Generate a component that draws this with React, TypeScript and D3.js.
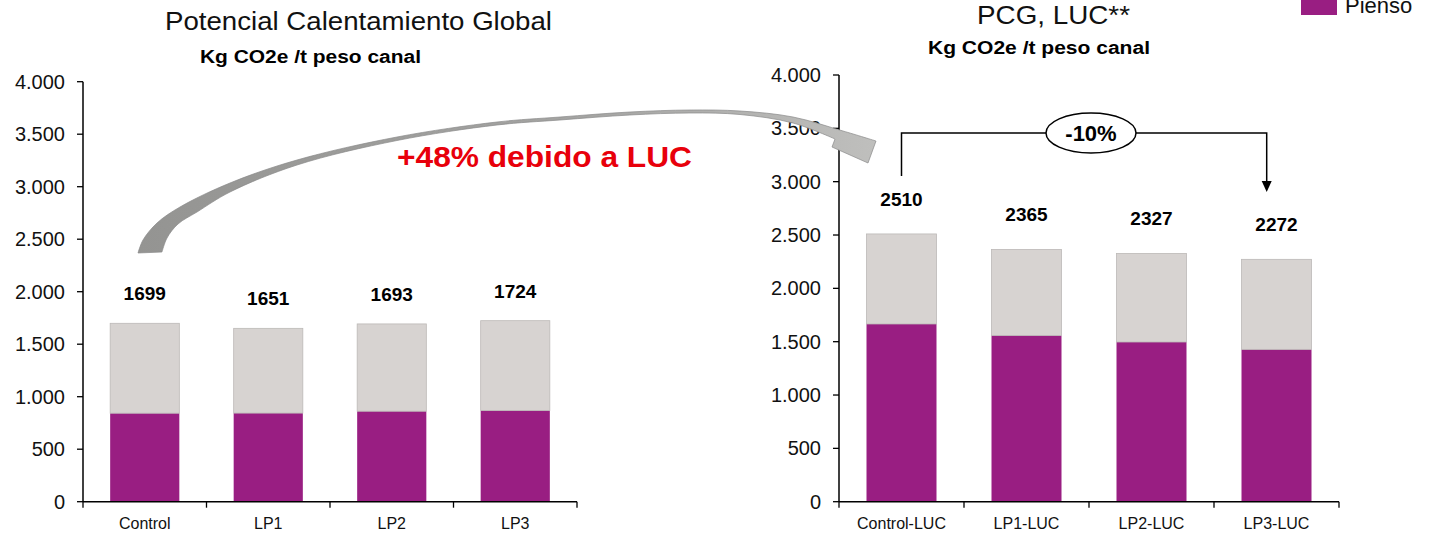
import React from "react";
import * as d3 from "d3";

// Emisiones (kg CO2e / t peso canal) por tratamiento
const leftCategories = ["Control", "LP1", "LP2", "LP3"];
const leftTotals = [1699, 1651, 1693, 1724];
const leftPienso = [843, 844, 862, 869];

const rightCategories = ["Control-LUC", "LP1-LUC", "LP2-LUC", "LP3-LUC"];
const rightTotals = [2510, 2365, 2327, 2272];
const rightPienso = [1666, 1559, 1497, 1428];

const yTickValues = [0, 500, 1000, 1500, 2000, 2500, 3000, 3500, 4000];

const PURPLE = "#991e82";
const GREY = "#d7d3d1";
const FONT = "'Liberation Sans', Arial, Helvetica, sans-serif";

const fmt = d3
  .formatLocale({ decimal: ",", thousands: ".", grouping: [3], currency: ["", ""] })
  .format(",");

type PanelProps = {
  categories: string[];
  totals: number[];
  pienso: number[];
  x0: number;
  x1: number;
  yBottom: number;
  yTop: number;
  labelGap: number;
};

function Panel({ categories, totals, pienso, x0, x1, yBottom, yTop, labelGap }: PanelProps) {
  const x = d3.scaleBand<string>().domain(categories).range([x0, x1]).paddingInner(0.44).paddingOuter(0.22);
  const y = d3.scaleLinear().domain([0, 4000]).range([yBottom, yTop]);
  const rows = categories.map((c, i) => ({ cat: c, pienso: pienso[i], otros: totals[i] - pienso[i] }));
  const series = d3.stack<any>().keys(["pienso", "otros"])(rows);
  const step = x.step();
  return (
    <g>
      {series.map((s) => (
        <g key={s.key}>
          {s.map((d, i) => (
            <rect
              key={i}
              x={x(categories[i])}
              width={x.bandwidth()}
              y={y(d[1])}
              height={y(d[0]) - y(d[1])}
              fill={s.key === "pienso" ? PURPLE : GREY}
              stroke={s.key === "pienso" ? "none" : "#bcb9b7"}
              strokeWidth={0.8}
            />
          ))}
        </g>
      ))}
      {/* value labels */}
      {totals.map((t, i) => (
        <text
          key={i}
          x={(x(categories[i]) as number) + x.bandwidth() / 2}
          y={y(t) - labelGap}
          textAnchor="middle"
          fontFamily={FONT}
          fontWeight="bold"
          fontSize={19}
          fill="#000"
        >
          {t}
        </text>
      ))}
      {/* y axis */}
      <line x1={x0} x2={x0} y1={yTop} y2={yBottom} stroke="#000" strokeWidth={1.5} />
      {yTickValues.map((v) => (
        <g key={v}>
          <line x1={x0 - 6} x2={x0} y1={y(v)} y2={y(v)} stroke="#000" strokeWidth={1.3} />
          <text x={x0 - 18} y={y(v) + 7} textAnchor="end" fontFamily={FONT} fontSize={20} fill="#111">
            {fmt(v)}
          </text>
        </g>
      ))}
      {/* x axis */}
      <line x1={x0} x2={x1} y1={yBottom} y2={yBottom} stroke="#000" strokeWidth={1.5} />
      {d3.range(categories.length + 1).map((i) => (
        <line key={i} x1={x0 + i * step} x2={x0 + i * step} y1={yBottom} y2={yBottom + 6} stroke="#000" strokeWidth={1.3} />
      ))}
      {categories.map((c) => (
        <text
          key={c}
          x={(x(c) as number) + x.bandwidth() / 2}
          y={529}
          textAnchor="middle"
          fontFamily={FONT}
          fontSize={16}
          fill="#111"
        >
          {c}
        </text>
      ))}
    </g>
  );
}

export default function App() {
  const W = 1431;
  const H = 536;

  // right panel geometry used by the bracket annotation
  const rx = d3.scaleBand<string>().domain(rightCategories).range([839, 1339]).paddingInner(0.44).paddingOuter(0.22);
  const bx0 = (rx(rightCategories[0]) as number) + rx.bandwidth() / 2;
  const bx1 = (rx(rightCategories[3]) as number) + rx.bandwidth() * 0.36;
  const bracketY = 133;

  // curved grey arrow linking both panels: tapered body + head
  const edge = d3.line().curve(d3.curveCatmullRom.alpha(0.5));
  const outer: [number, number][] = [
    [138, 253], [143, 240], [157, 223], [180, 207], [230, 183], [297, 160], [397, 137],
    [497, 122], [560, 117], [630, 112], [690, 110], [740, 111], [793, 117], [843, 131], [876, 141],
  ];
  const inner: [number, number][] = [
    [835, 139], [793, 123], [740, 114.5], [690, 113], [630, 115], [560, 120], [497, 125],
    [397, 140.5], [297, 165], [230, 192], [197, 212], [178, 224], [167, 238], [162, 252],
  ];
  const arrowPath =
    (edge(outer) as string) +
    "L868,163L832,147" +
    (edge(inner) as string).replace(/^M/, "L") +
    "Z";

  return (
    <svg width={W} height={H} style={{ position: "absolute", left: 0, top: 0, background: "#fff" }}>
      <defs>
        <linearGradient id="arrowFill" x1="0" x2="1" y1="0" y2="0">
          <stop offset="0" stopColor="#949492" />
          <stop offset="0.6" stopColor="#a4a4a2" />
          <stop offset="1" stopColor="#bfbfbd" />
        </linearGradient>
      </defs>
      <rect width={W} height={H} fill="#fff" />

      {/* titles */}
      <text x={165} y={30} fontFamily={FONT} fontSize={25} textLength={387} lengthAdjust="spacingAndGlyphs" fill="#111">
        Potencial Calentamiento Global
      </text>
      <text x={200} y={63} fontFamily={FONT} fontSize={18} fontWeight="bold" textLength={221} lengthAdjust="spacingAndGlyphs" fill="#000">
        Kg CO2e /t peso canal
      </text>
      <text x={977} y={24} fontFamily={FONT} fontSize={25} textLength={153} lengthAdjust="spacingAndGlyphs" fill="#111">
        PCG, LUC**
      </text>
      <text x={928} y={54} fontFamily={FONT} fontSize={18} fontWeight="bold" textLength={222} lengthAdjust="spacingAndGlyphs" fill="#000">
        Kg CO2e /t peso canal
      </text>

      {/* legend */}
      <rect x={1301} y={-2} width={36} height={17} fill={PURPLE} />
      <text x={1345} y={13} fontFamily={FONT} fontSize={22} fill="#111">
        Pienso
      </text>

      <Panel categories={leftCategories} totals={leftTotals} pienso={leftPienso} x0={83} x1={577} yBottom={501.7} yTop={81.7} labelGap={23} />
      <Panel categories={rightCategories} totals={rightTotals} pienso={rightPienso} x0={839} x1={1339} yBottom={501.7} yTop={75} labelGap={28} />

      {/* -10% bracket */}
      <path d={`M${bx0},176V${bracketY}H${bx1}V182`} fill="none" stroke="#000" strokeWidth={1.5} />
      <path d={`M${bx1 - 5},181L${bx1 + 5},181L${bx1},192Z`} fill="#000" />
      <ellipse cx={1091} cy={bracketY} rx={45} ry={20} fill="#fff" stroke="#000" strokeWidth={1.5} />
      <text x={1091} y={bracketY + 8} textAnchor="middle" fontFamily={FONT} fontWeight="bold" fontSize={22} fill="#000">
        -10%
      </text>

      {/* +48% annotation */}
      <path d={arrowPath} fill="url(#arrowFill)" stroke="#8a8a8a" strokeWidth={0.7} />
      <text x={397} y={167} fontFamily={FONT} fontWeight="bold" fontSize={30} textLength={295} lengthAdjust="spacingAndGlyphs" fill="#e8000b">
        +48% debido a LUC
      </text>
    </svg>
  );
}
